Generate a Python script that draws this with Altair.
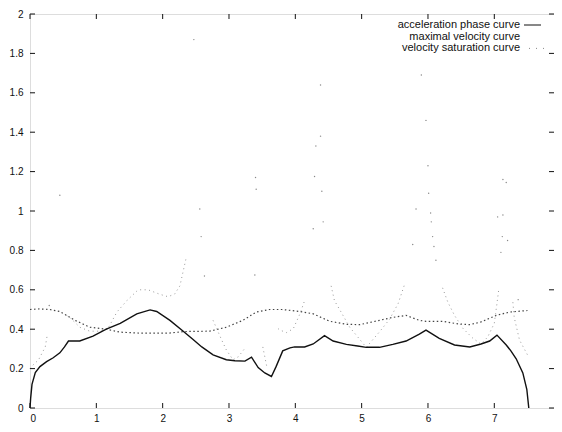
import altair as alt
import pandas as pd

# acceleration phase curve (solid)
accel_x = [0, 0.01, 0.03, 0.08, 0.15, 0.25, 0.35, 0.45, 0.52, 0.58, 0.75, 0.95, 1.15, 1.36, 1.61, 1.81,
           1.91, 2.11, 2.31, 2.45, 2.59, 2.76, 2.96, 3.09, 3.24, 3.34, 3.44, 3.54, 3.64, 3.71, 3.81, 3.92,
           3.99, 4.14, 4.27, 4.44, 4.57, 4.77, 4.94, 5.07, 5.27, 5.47, 5.67, 5.87, 5.97, 6.17, 6.40, 6.63,
           6.80, 6.93, 7.04, 7.18, 7.25, 7.33, 7.43, 7.49, 7.52]
accel_y = [0, 0.05, 0.12, 0.18, 0.21, 0.235, 0.255, 0.28, 0.31, 0.34, 0.34, 0.365, 0.40, 0.43, 0.478, 0.498,
           0.49, 0.445, 0.39, 0.35, 0.31, 0.27, 0.245, 0.24, 0.238, 0.258, 0.205, 0.178, 0.16, 0.21, 0.29, 0.305,
           0.31, 0.31, 0.325, 0.367, 0.34, 0.323, 0.315, 0.308, 0.308, 0.323, 0.34, 0.375, 0.395, 0.353, 0.32, 0.31,
           0.325, 0.34, 0.37, 0.32, 0.29, 0.25, 0.178, 0.095, 0]

# maximal velocity curve (dotted)
maxv_x = [0, 0.15, 0.3, 0.45, 0.68, 0.9, 1.15, 1.36, 1.66, 1.81, 2.1, 2.31, 2.71, 2.96, 3.21, 3.41, 3.61,
          3.8, 4.07, 4.27, 4.52, 4.77, 4.97, 5.27, 5.47, 5.67, 5.87, 5.97, 6.22, 6.43, 6.63, 6.80, 7.03, 7.23, 7.5]
maxv_y = [0.5, 0.503, 0.5, 0.49, 0.445, 0.41, 0.40, 0.385, 0.38, 0.38, 0.38, 0.388, 0.39, 0.41, 0.445, 0.487, 0.50,
          0.5, 0.49, 0.478, 0.44, 0.425, 0.423, 0.445, 0.46, 0.47, 0.445, 0.44, 0.44, 0.428, 0.423, 0.437, 0.47, 0.487, 0.495]

# velocity saturation curve: connected pieces
sat_seg = [1]*5 + [2]*16 + [3]*6 + [4]*2 + [5]*6 + [6]*9 + [7]*10 + [8]*4
sat_x = [0, 0.02, 0.13, 0.23, 0.26,
         0.55, 0.6, 0.75, 0.9, 1.05, 1.17, 1.31, 1.46, 1.63, 1.78, 1.96, 2.08, 2.18, 2.26, 2.31, 2.36,
         2.76, 2.89, 2.96, 3.06, 3.14, 3.24,
         3.51, 3.57,
         3.74, 3.77, 3.87, 3.97, 4.07, 4.14,
         4.54, 4.59, 4.69, 4.82, 5.07, 5.27, 5.42, 5.55, 5.65,
         6.22, 6.3, 6.4, 6.53, 6.68, 6.80, 6.90, 7.0, 7.04, 7.07,
         7.28, 7.3, 7.38, 7.5]
sat_y = [0.2, 0.21, 0.245, 0.31, 0.37,
         0.47, 0.46, 0.41, 0.39, 0.39, 0.40, 0.487, 0.545, 0.60, 0.60, 0.577, 0.565, 0.578, 0.62, 0.695, 0.77,
         0.445, 0.345, 0.295, 0.245, 0.26, 0.303,
         0.31, 0.21,
         0.403, 0.395, 0.383, 0.403, 0.478, 0.545,
         0.62, 0.545, 0.487, 0.41, 0.308, 0.387, 0.45, 0.53, 0.63,
         0.61, 0.537, 0.47, 0.403, 0.353, 0.325, 0.36, 0.43, 0.53, 0.61,
         0.537, 0.46, 0.345, 0.27]

# velocity saturation curve: isolated dots
dot_x = [0.29, 0.45, 2.47, 2.56, 2.58, 2.63, 3.40, 3.41, 3.39, 4.38, 4.38, 4.31, 4.29, 4.40, 4.42, 4.27,
         5.9, 5.97, 6.0, 6.01, 5.82, 6.04, 6.05, 6.07, 5.77, 6.09, 6.12, 7.13, 7.18, 7.13, 7.12, 7.2, 7.10, 7.05, 7.36]
dot_y = [0.52, 1.08, 1.87, 1.01, 0.87, 0.67, 1.17, 1.11, 0.675, 1.64, 1.38, 1.33, 1.175, 1.10, 0.945, 0.91,
         1.69, 1.46, 1.23, 1.09, 1.01, 0.99, 0.945, 0.87, 0.83, 0.82, 0.75, 1.16, 1.145, 0.98, 0.87, 0.85, 0.79, 0.97, 0.55]

x_ticks = [0, 1, 2, 3, 4, 5, 6, 7]
y_ticks = [0, 0.2, 0.4, 0.6, 0.8, 1.0, 1.2, 1.4, 1.6, 1.8, 2.0]

legend_labels = ["acceleration phase curve", "maximal velocity curve", "velocity saturation curve"]

accel = pd.DataFrame({"x": accel_x, "y": accel_y})
maxv = pd.DataFrame({"x": maxv_x, "y": maxv_y})
sat = pd.DataFrame({"seg": sat_seg, "x": sat_x, "y": sat_y})
dots = pd.DataFrame({"x": dot_x, "y": dot_y})
xt = pd.DataFrame({"t": x_ticks})
yt = pd.DataFrame({"t": y_ticks})
leg = pd.DataFrame({"label": legend_labels, "row": list(range(len(legend_labels)))})

FONT = "Liberation Sans"
xs = alt.Scale(domain=[0, 7.9], nice=False, zero=False)
ys = alt.Scale(domain=[0, 2], nice=False, zero=False)

xaxis = alt.Axis(values=x_ticks, format="~g", ticks=False, domain=False, grid=False, title=None,
                 labelFont=FONT, labelFontSize=10, labelColor="#111", labelPadding=5)
yaxis = alt.Axis(values=y_ticks, format="~g", ticks=False, domain=False, grid=False, title=None,
                 labelFont=FONT, labelFontSize=10, labelColor="#111", labelPadding=7)

base_x = alt.X("x:Q", scale=xs, axis=xaxis)
base_y = alt.Y("y:Q", scale=ys, axis=yaxis)

accel_line = alt.Chart(accel).mark_line(color="#111", strokeWidth=1.4).encode(x=base_x, y=base_y)
maxv_line = alt.Chart(maxv).mark_line(color="#444", strokeWidth=1.2, strokeDash=[1.5, 2.5]).encode(x=base_x, y=base_y)
sat_line = alt.Chart(sat).mark_line(color="#999", strokeWidth=1, strokeDash=[1, 3.5]).encode(
    x=base_x, y=base_y, detail="seg:N")
sat_dots = alt.Chart(dots).mark_circle(color="#888", size=2, opacity=1).encode(x=base_x, y=base_y)

# inward ticks (bottom, top, left, right)
tb = alt.Chart(xt).mark_rule(color="#111", y2Offset=-5).encode(
    x=alt.X("t:Q", scale=xs, axis=xaxis), y=alt.datum(0, scale=ys, axis=yaxis), y2=alt.datum(0))
tt = alt.Chart(xt).mark_rule(color="#111", y2Offset=5).encode(
    x=alt.X("t:Q", scale=xs, axis=xaxis), y=alt.datum(2, scale=ys, axis=yaxis), y2=alt.datum(2))
tl = alt.Chart(yt).mark_rule(color="#111", x2Offset=5).encode(
    y=alt.Y("t:Q", scale=ys, axis=yaxis), x=alt.datum(0, scale=xs, axis=xaxis), x2=alt.datum(0))
tr = alt.Chart(yt).mark_rule(color="#111", x2Offset=-5).encode(
    y=alt.Y("t:Q", scale=ys, axis=yaxis), x=alt.datum(7.9, scale=xs, axis=xaxis), x2=alt.datum(7.9))

# legend in the top right corner
leg_text = alt.Chart(leg).transform_calculate(py="11 + datum.row * 11.7").mark_text(
    align="right", baseline="middle", font=FONT, fontSize=11, color="#111").encode(
    x=alt.value(490), y=alt.Y("py:Q", scale=None), text="label:N")
leg_acc = alt.Chart(leg).transform_filter("datum.row == 0").transform_calculate(py="11 + datum.row * 11.7").mark_rule(
    color="#111", strokeWidth=1).encode(x=alt.value(494), x2=alt.value(511), y=alt.Y("py:Q", scale=None))
leg_sat = alt.Chart(leg).transform_filter("datum.row == 2").transform_calculate(py="11 + datum.row * 11.7").mark_rule(
    color="#888", strokeWidth=1, strokeDash=[1, 6]).encode(x=alt.value(499), x2=alt.value(516), y=alt.Y("py:Q", scale=None))

chart = alt.layer(maxv_line, sat_line, sat_dots, accel_line, tb, tt, tl, tr, leg_text, leg_acc, leg_sat).properties(
    width=524, height=394,
    autosize=alt.AutoSizeParams(type="none"),
    padding={"left": 22, "top": 6, "right": 0, "bottom": 16},
).configure_view(stroke="#111", strokeWidth=1).configure(background="white")

chart.save("out.html", embed_options={"renderer": "svg", "actions": False})
